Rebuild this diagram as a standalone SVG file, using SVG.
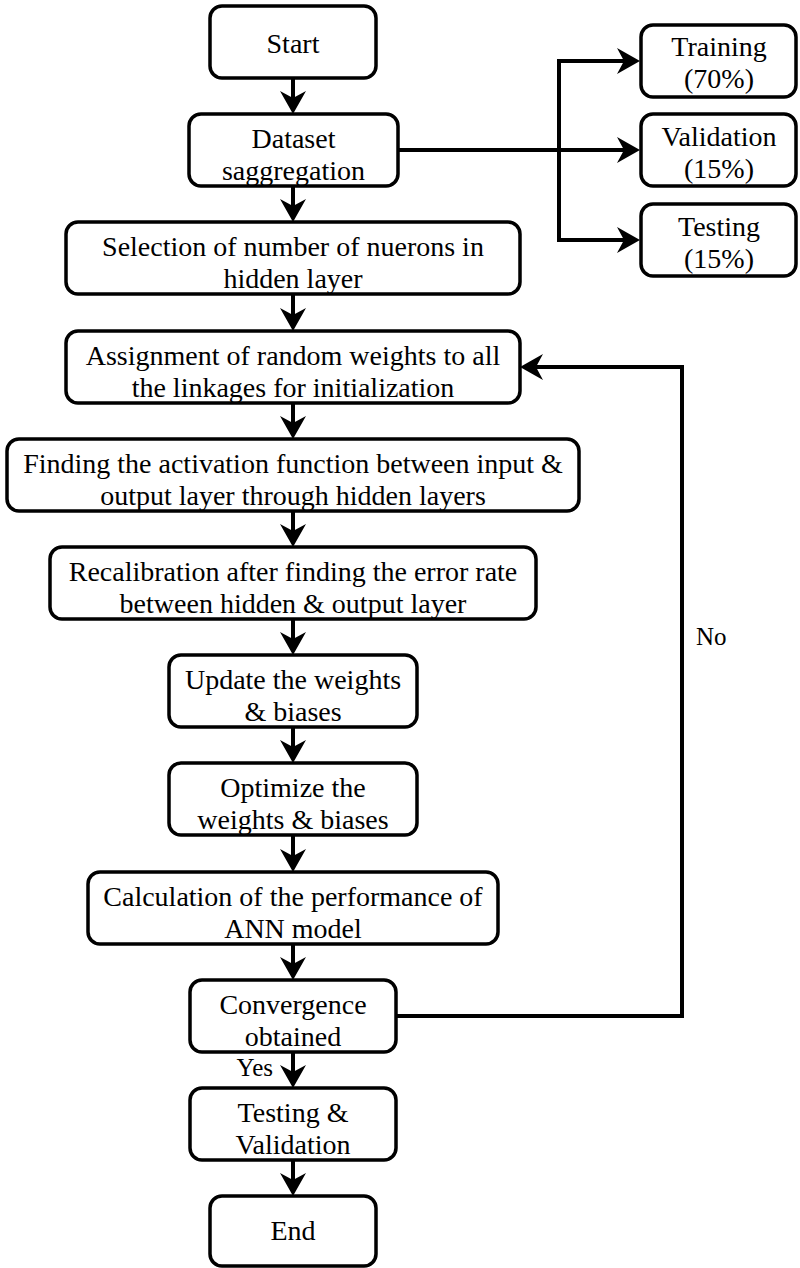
<svg xmlns="http://www.w3.org/2000/svg" width="800" height="1268" viewBox="0 0 800 1268">
  <style>
    .box { fill: #ffffff; stroke: #000000; stroke-width: 3.5; }
    .lbl { font-family: "Liberation Serif", "Times New Roman", serif; font-size: 28px; fill: #000000; text-anchor: middle; }
    .small { font-family: "Liberation Serif", "Times New Roman", serif; font-size: 25px; fill: #000000; }
    .conn { fill: none; stroke: #000000; stroke-width: 4; }
  </style>
  <defs>
    <marker id="arr" markerUnits="userSpaceOnUse" markerWidth="40" markerHeight="40" refX="0" refY="0" orient="auto" overflow="visible" viewBox="-20 -20 40 40">
      <path d="M12,0 L-11,-13 L-4,0 L-11,13 Z" fill="#000000"/>
    </marker>
  </defs>
  <rect x="0" y="0" width="800" height="1268" fill="#ffffff"/>

  <g id="connectors">
    <path class="conn" d="M293,78 V102" marker-end="url(#arr)"/>
    <path class="conn" d="M293,186 V210" marker-end="url(#arr)"/>
    <path class="conn" d="M293,294 V319" marker-end="url(#arr)"/>
    <path class="conn" d="M293,403 V427" marker-end="url(#arr)"/>
    <path class="conn" d="M293,511 V535" marker-end="url(#arr)"/>
    <path class="conn" d="M293,619 V643" marker-end="url(#arr)"/>
    <path class="conn" d="M293,727 V751" marker-end="url(#arr)"/>
    <path class="conn" d="M293,835 V860" marker-end="url(#arr)"/>
    <path class="conn" d="M293,944 V968" marker-end="url(#arr)"/>
    <path class="conn" d="M293,1052 V1076" marker-end="url(#arr)"/>
    <path class="conn" d="M293,1160 V1184" marker-end="url(#arr)"/>
    <path class="conn" d="M398,150 H628" marker-end="url(#arr)"/>
    <path class="conn" d="M559,61 V240"/>
    <path class="conn" d="M557,61 H628" marker-end="url(#arr)"/>
    <path class="conn" d="M557,240 H628" marker-end="url(#arr)"/>
    <path class="conn" d="M396,1016 H682 V367 H532" marker-end="url(#arr)"/>
    <text class="small" x="696" y="645">No</text>
    <text class="small" x="273" y="1076" text-anchor="end">Yes</text>
  </g>

  <g id="start">
    <rect class="box" x="210" y="6" width="166" height="72" rx="12"/>
    <text class="lbl" x="293" y="53">Start</text>
  </g>
  <g id="dataset">
    <rect class="box" x="189" y="114" width="209" height="72" rx="12"/>
    <text class="lbl" x="293.5" y="148">Dataset</text>
    <text class="lbl" x="293.5" y="180">saggregation</text>
  </g>
  <g id="training">
    <rect class="box" x="641" y="25" width="155" height="72" rx="12"/>
    <text class="lbl" x="719" y="56">Training</text>
    <text class="lbl" x="719" y="88">(70%)</text>
  </g>
  <g id="validation">
    <rect class="box" x="641" y="114" width="155" height="72" rx="12"/>
    <text class="lbl" x="719" y="146">Validation</text>
    <text class="lbl" x="719" y="178">(15%)</text>
  </g>
  <g id="testing-split">
    <rect class="box" x="641" y="204" width="155" height="72" rx="12"/>
    <text class="lbl" x="719" y="236">Testing</text>
    <text class="lbl" x="719" y="268">(15%)</text>
  </g>
  <g id="selection">
    <rect class="box" x="66" y="222" width="454" height="72" rx="12"/>
    <text class="lbl" x="293" y="256">Selection of number of nuerons in</text>
    <text class="lbl" x="293" y="288">hidden layer</text>
  </g>
  <g id="assignment">
    <rect class="box" x="66" y="331" width="454" height="72" rx="12"/>
    <text class="lbl" x="293" y="365">Assignment of random weights to all</text>
    <text class="lbl" x="293" y="397">the linkages for initialization</text>
  </g>
  <g id="finding">
    <rect class="box" x="7" y="439" width="572" height="72" rx="12"/>
    <text class="lbl" x="293" y="473">Finding the activation function between input &amp;</text>
    <text class="lbl" x="293" y="505">output layer through hidden layers</text>
  </g>
  <g id="recalibration">
    <rect class="box" x="50" y="547" width="486" height="72" rx="12"/>
    <text class="lbl" x="293" y="581">Recalibration after finding the error rate</text>
    <text class="lbl" x="293" y="613">between hidden &amp; output layer</text>
  </g>
  <g id="update">
    <rect class="box" x="169" y="655" width="248" height="72" rx="12"/>
    <text class="lbl" x="293" y="689">Update the weights</text>
    <text class="lbl" x="293" y="721">&amp; biases</text>
  </g>
  <g id="optimize">
    <rect class="box" x="169" y="763" width="248" height="72" rx="12"/>
    <text class="lbl" x="293" y="797">Optimize the</text>
    <text class="lbl" x="293" y="829">weights &amp; biases</text>
  </g>
  <g id="calculation">
    <rect class="box" x="88" y="872" width="410" height="72" rx="12"/>
    <text class="lbl" x="293" y="906">Calculation of the performance of</text>
    <text class="lbl" x="293" y="938">ANN model</text>
  </g>
  <g id="convergence">
    <rect class="box" x="190" y="980" width="206" height="72" rx="12"/>
    <text class="lbl" x="293" y="1014">Convergence</text>
    <text class="lbl" x="293" y="1046">obtained</text>
  </g>
  <g id="testing-validation">
    <rect class="box" x="190" y="1088" width="206" height="72" rx="12"/>
    <text class="lbl" x="293" y="1122">Testing &amp;</text>
    <text class="lbl" x="293" y="1154">Validation</text>
  </g>
  <g id="end">
    <rect class="box" x="210" y="1196" width="166" height="70" rx="12"/>
    <text class="lbl" x="293" y="1240">End</text>
  </g>
</svg>
